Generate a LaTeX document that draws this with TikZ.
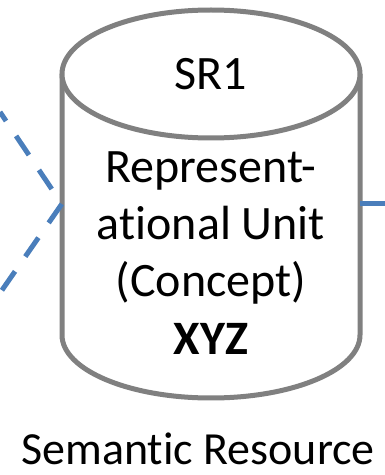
\documentclass[tikz,border=0pt]{standalone}
\usepackage{fontspec}
\setmainfont[Ligatures=NoCommon]{Carlito}
\definecolor{srgrey}{RGB}{128,128,128}
\definecolor{linkblue}{RGB}{74,126,187}
\begin{document}
\begin{tikzpicture}[x=1pt,y=1pt,
		srline/.style={draw=srgrey,line width=5pt,fill=white},
		dashlink/.style={draw=linkblue,line width=5pt,dash pattern=on 23pt off 18pt},
		solidlink/.style={draw=linkblue,line width=5pt},
		srtext/.style={font=\fontsize{48}{55}\selectfont,anchor=base,inner sep=0pt}]
			\useasboundingbox (0,0) rectangle (385,475);
			% the resource drawn as a cylinder
			\draw[srline] (62,401)--(62,140) arc[start angle=180,end angle=360,x radius=149,y radius=63]--(360,401);
			\draw[srline] (211,401) ellipse[x radius=149,y radius=64];
			\node[minimum width=298pt,minimum height=388pt,inner sep=0pt](sr) at (211,271){};
			\coordinate (up) at (0,363);
			\coordinate (low) at (0,182);
			\coordinate (rgt) at (385,271);
			\draw[dashlink,dash phase=23pt] (sr.west)--(up);
			\draw[dashlink] (sr.west)--(low);
			\draw[solidlink] (sr.east)--(rgt);
			\node[srtext](srname) at (211,385){SR1};
			\node[srtext](unit1) at (211,292){Represent-};
			\node[srtext](unit2) at (211,235){ational Unit};
			\node[srtext](unit3) at (211,178){(Concept)};
			\node[srtext,font=\fontsize{48}{55}\selectfont\bfseries](unit4) at (211,120){XYZ};
			\node[srtext,font=\fontsize{46}{55}\selectfont](caption) at (198,10){Semantic Resource};
		\end{tikzpicture}
\end{document}
